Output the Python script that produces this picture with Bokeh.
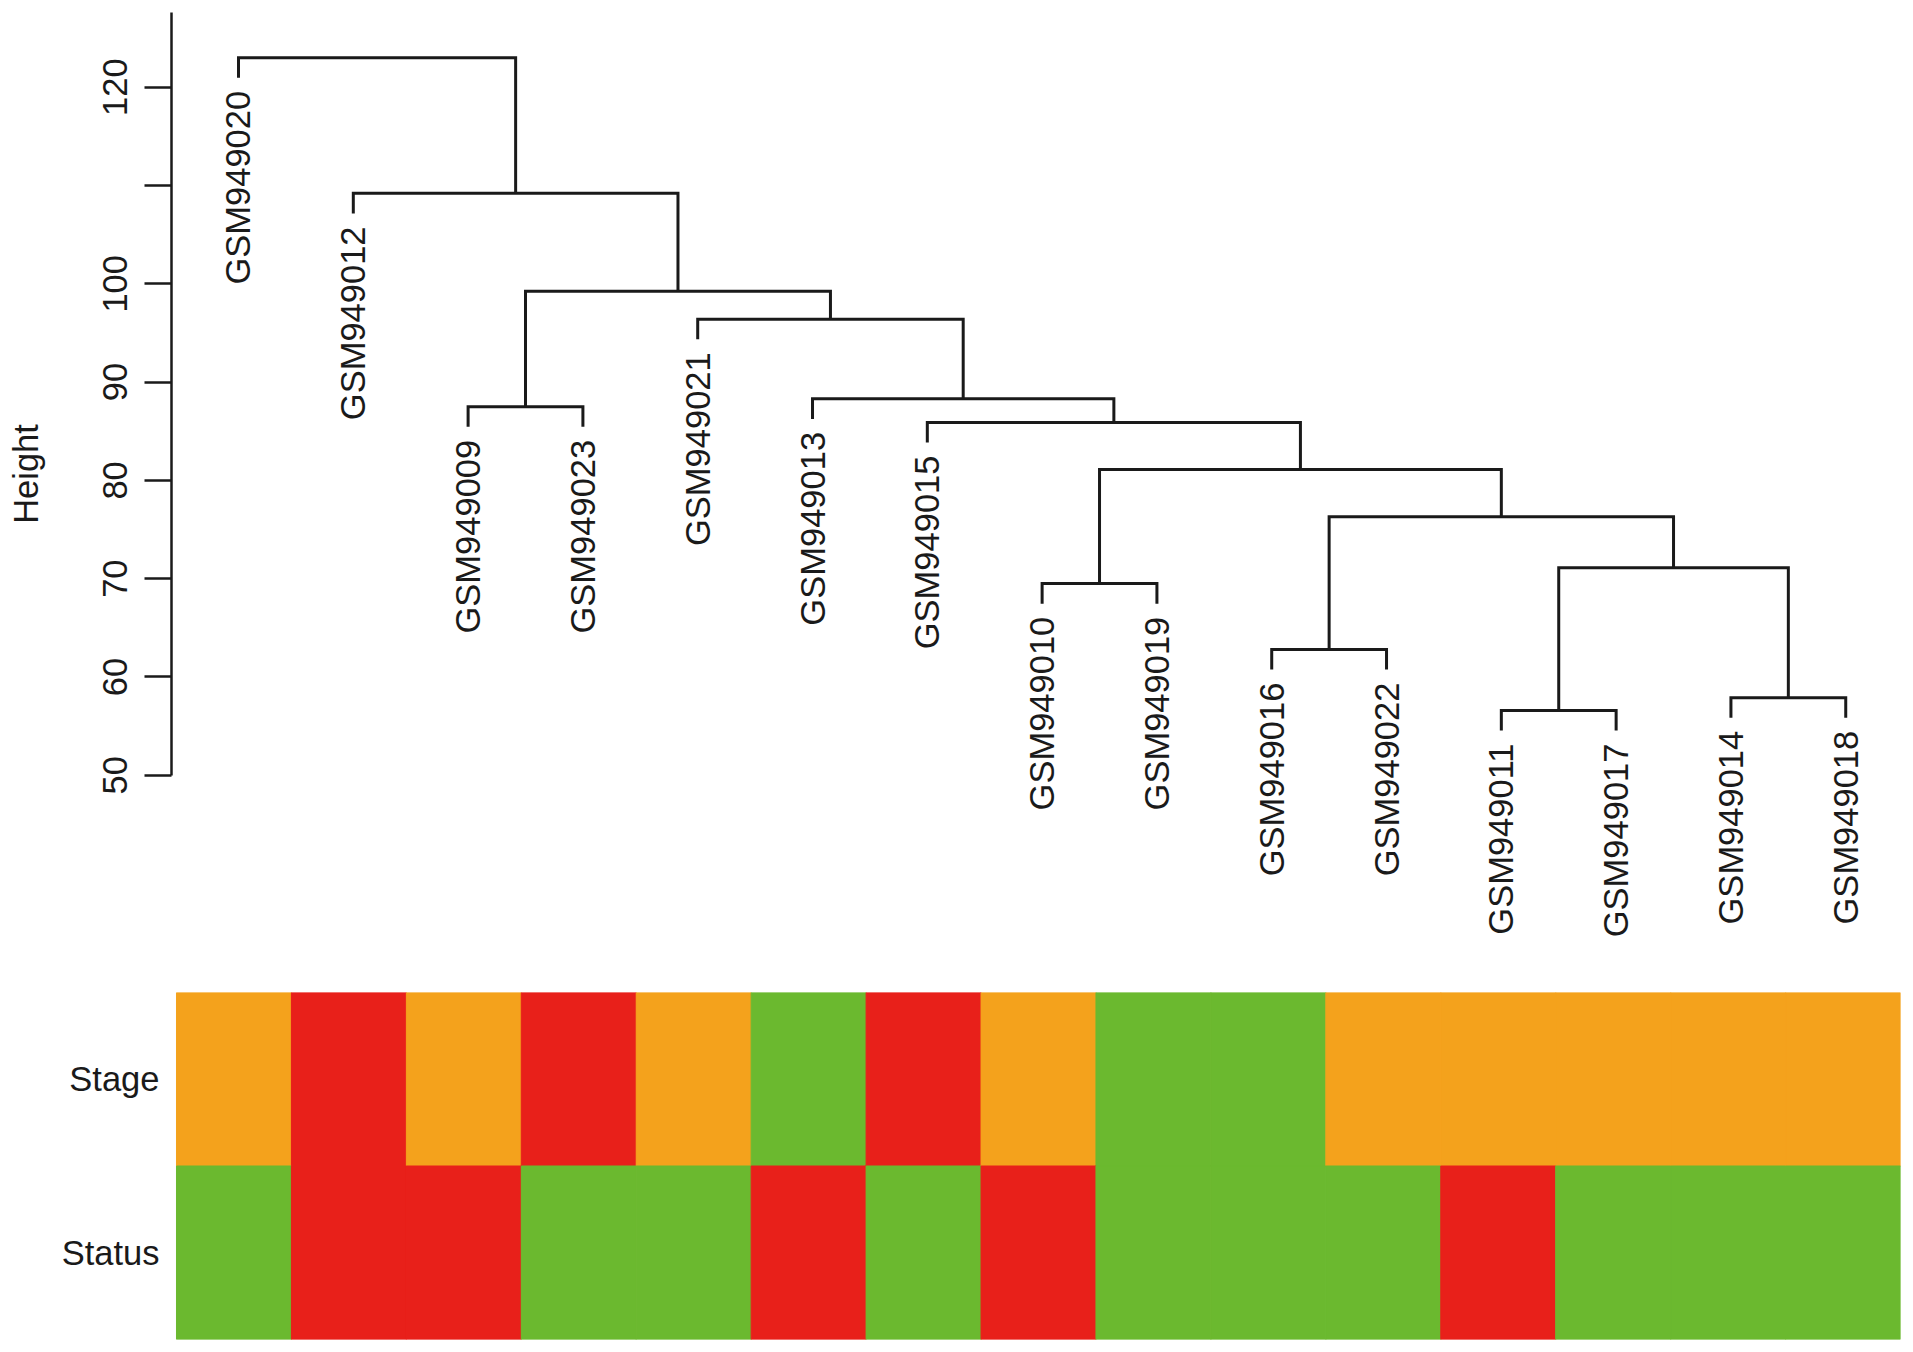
import math
from bokeh.plotting import figure
from bokeh.layouts import column
from bokeh.models import Range1d, FixedTicker, FactorRange, ColumnDataSource
from bokeh.embed import file_html
from bokeh.resources import INLINE

# ---- data ----
leaves = ["GSM949020", "GSM949012", "GSM949009", "GSM949023", "GSM949021",
          "GSM949013", "GSM949015", "GSM949010", "GSM949019", "GSM949016",
          "GSM949022", "GSM949011", "GSM949017", "GSM949014", "GSM949018"]

merge_left = ["GSM949011", "GSM949014", "GSM949016", "GSM949010", "m1", "m3", "m4",
              "GSM949015", "GSM949009", "GSM949013", "GSM949021", "m9", "GSM949012", "GSM949020"]
merge_right = ["GSM949017", "GSM949018", "GSM949022", "GSM949019", "m2", "m5", "m6",
               "m7", "GSM949023", "m8", "m10", "m11", "m12", "m13"]
merge_height = [56.6, 57.9, 62.8, 69.5, 71.1, 76.3, 81.1, 85.9, 87.5, 88.3, 96.4, 99.25, 109.2, 123.0]

y_ticks = [50, 60, 70, 80, 90, 100, 110, 120]
y_tick_labels = ["50", "60", "70", "80", "90", "100", "", "120"]

rows = ["Stage", "Status"]
stage_colors = ["#F4A21C", "#E8201A", "#F4A21C", "#E8201A", "#F4A21C", "#6BB92F", "#E8201A", "#F4A21C",
                "#6BB92F", "#6BB92F", "#F4A21C", "#F4A21C", "#F4A21C", "#F4A21C", "#F4A21C"]
status_colors = ["#6BB92F", "#E8201A", "#E8201A", "#6BB92F", "#6BB92F", "#E8201A", "#6BB92F", "#E8201A",
                 "#6BB92F", "#6BB92F", "#6BB92F", "#E8201A", "#6BB92F", "#6BB92F", "#6BB92F"]

hang = 2.05
label_gap = 1.32
FONT = "Liberation Sans"
FS = "34.5px"
INK = "#1a1a1a"

# ---- dendrogram geometry from the merge table ----
pos = {name: i for i, name in enumerate(leaves)}
top = {}
leaf_end = {}
xs, ys = [], []
for k, (l, r, h) in enumerate(zip(merge_left, merge_right, merge_height)):
    name = "m%d" % (k + 1)
    bottoms = []
    for c in (l, r):
        if c in top:
            bottoms.append(top[c])
        else:
            leaf_end[c] = h - hang
            bottoms.append(h - hang)
    xs.append([pos[l], pos[l], pos[r], pos[r]])
    ys.append([bottoms[0], h, h, bottoms[1]])
    pos[name] = (pos[l] + pos[r]) / 2.0
    top[name] = h

lab_x = [pos[n] for n in leaves]
lab_y = [leaf_end[n] - label_gap for n in leaves]

# ---- figure 1: dendrogram ----
p1 = figure(width=1913, height=947, x_range=Range1d(-0.5836, 14.477), y_range=Range1d(32.48, 128.82),
            output_backend="svg", toolbar_location=None, x_axis_location=None,
            min_border_left=171, min_border_right=13, min_border_top=0, min_border_bottom=0)
p1.outline_line_color = None
p1.grid.visible = False
p1.background_fill_color = "white"

p1.multi_line(xs=xs, ys=ys, line_color=INK, line_width=3, line_join="miter")
p1.text(x=lab_x, y=lab_y, text=leaves, angle=math.pi / 2, text_align="right", text_baseline="middle",
        text_font_size=FS, text_color=INK, text_font={"value": FONT})

ya = p1.yaxis[0]
ya.bounds = (50, 127.6)
ya.ticker = FixedTicker(ticks=y_ticks)
ya.major_label_overrides = {t: s for t, s in zip(y_ticks, y_tick_labels)}
ya.minor_tick_line_color = None
ya.major_tick_in = 0
ya.major_tick_out = 27
ya.major_tick_line_width = 2.5
ya.major_tick_line_color = INK
ya.axis_line_width = 2.5
ya.axis_line_color = INK
ya.major_label_orientation = "vertical"
ya.major_label_standoff = 17
ya.major_label_text_font_size = FS
ya.major_label_text_font = FONT
ya.major_label_text_color = INK
ya.axis_label = "Height"
ya.axis_label_text_font_size = FS
ya.axis_label_text_font = FONT
ya.axis_label_text_font_style = "normal"
ya.axis_label_text_color = INK
ya.axis_label_standoff = 56

# ---- figure 2: annotation heatmap ----
p2 = figure(width=1913, height=405, x_range=Range1d(-0.5435, 14.5), y_range=FactorRange(factors=rows[::-1]),
            output_backend="svg", toolbar_location=None, x_axis_location=None,
            min_border_left=171, min_border_right=13, min_border_top=45, min_border_bottom=13)
p2.outline_line_color = None
p2.grid.visible = False

idx = list(range(len(leaves)))
src = ColumnDataSource(dict(
    x=idx + idx,
    y=[rows[0]] * len(idx) + [rows[1]] * len(idx),
    c=stage_colors + status_colors,
))
p2.rect(x="x", y="y", width=1, height=1, fill_color="c", line_color="c", line_width=1, source=src)

ya2 = p2.yaxis[0]
ya2.axis_line_color = None
ya2.major_tick_line_color = None
ya2.minor_tick_line_color = None
ya2.major_label_standoff = 6
ya2.major_label_text_font_size = FS
ya2.major_label_text_font = FONT
ya2.major_label_text_color = INK

layout = column(p1, p2, spacing=0)
open("out.html", "w").write(file_html(layout, INLINE))
